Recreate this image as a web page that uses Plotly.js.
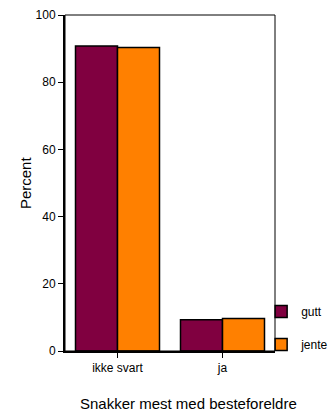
<!DOCTYPE html>
<html><head><meta charset="utf-8">
<script src="https://cdn.plot.ly/plotly-3.0.1.min.js"></script>
<style>html,body{margin:0;padding:0;background:#fff}#chart{width:329px;height:414px}</style>
</head><body><div id="chart"></div>
<script>
var categories = ["ikke svart", "ja"];
var guttValues = [90.8, 9.3];
var jenteValues = [90.3, 9.7];
var seriesNames = ["gutt", "jente"];
var yTicks = [0, 20, 40, 60, 80, 100];

var font = "Liberation Sans, Arial, sans-serif";
var traces = [
  {type: "bar", name: seriesNames[0], x: categories, y: guttValues, legendgroup: "a",
   marker: {color: "#800040", line: {color: "#000", width: 1.5}}},
  {type: "bar", name: seriesNames[1], x: categories, y: jenteValues, legendgroup: "b",
   marker: {color: "#FF8000", line: {color: "#000", width: 1.5}}}
];
var layout = {
  width: 329, height: 414,
  margin: {l: 65, r: 54, t: 15, b: 63, autoexpand: false},
  paper_bgcolor: "#fff", plot_bgcolor: "#fff",
  font: {family: font, size: 12, color: "#000"},
  barmode: "group", bargap: 0.2, bargroupgap: 0,
  showlegend: true,
  legend: {x: 0.934, xanchor: "left", y: -0.024, yanchor: "bottom", bgcolor: "rgba(0,0,0,0)",
           tracegroupgap: 14, font: {size: 12}},
  xaxis: {type: "category", showgrid: false, zeroline: false, showline: true, linewidth: 2, linecolor: "#000",
          ticks: "outside", ticklen: 5, tickcolor: "#000", tickfont: {size: 12}},
  yaxis: {range: [0, 100], tickvals: yTicks, showgrid: false, zeroline: false, showline: true, linewidth: 2,
          linecolor: "#000", ticks: "outside", ticklen: 5, tickcolor: "#000", tickfont: {size: 12}},
  shapes: [{type: "rect", xref: "paper", yref: "paper", x0: 0, x1: 1, y0: 0, y1: 1,
            line: {color: "#000", width: 1}}],
  annotations: [
    {text: "Percent", xref: "paper", yref: "paper", x: -0.19, y: 0.5, textangle: -90,
     showarrow: false, font: {size: 15}, xanchor: "center", yanchor: "middle"},
    {text: "Snakker mest med besteforeldre", xref: "paper", yref: "paper", x: 0.59, y: -0.155,
     showarrow: false, font: {size: 15}, xanchor: "center", yanchor: "middle"}
  ]
};
Plotly.newPlot("chart", traces, layout, {displayModeBar: false, staticPlot: true});
</script></body></html>
